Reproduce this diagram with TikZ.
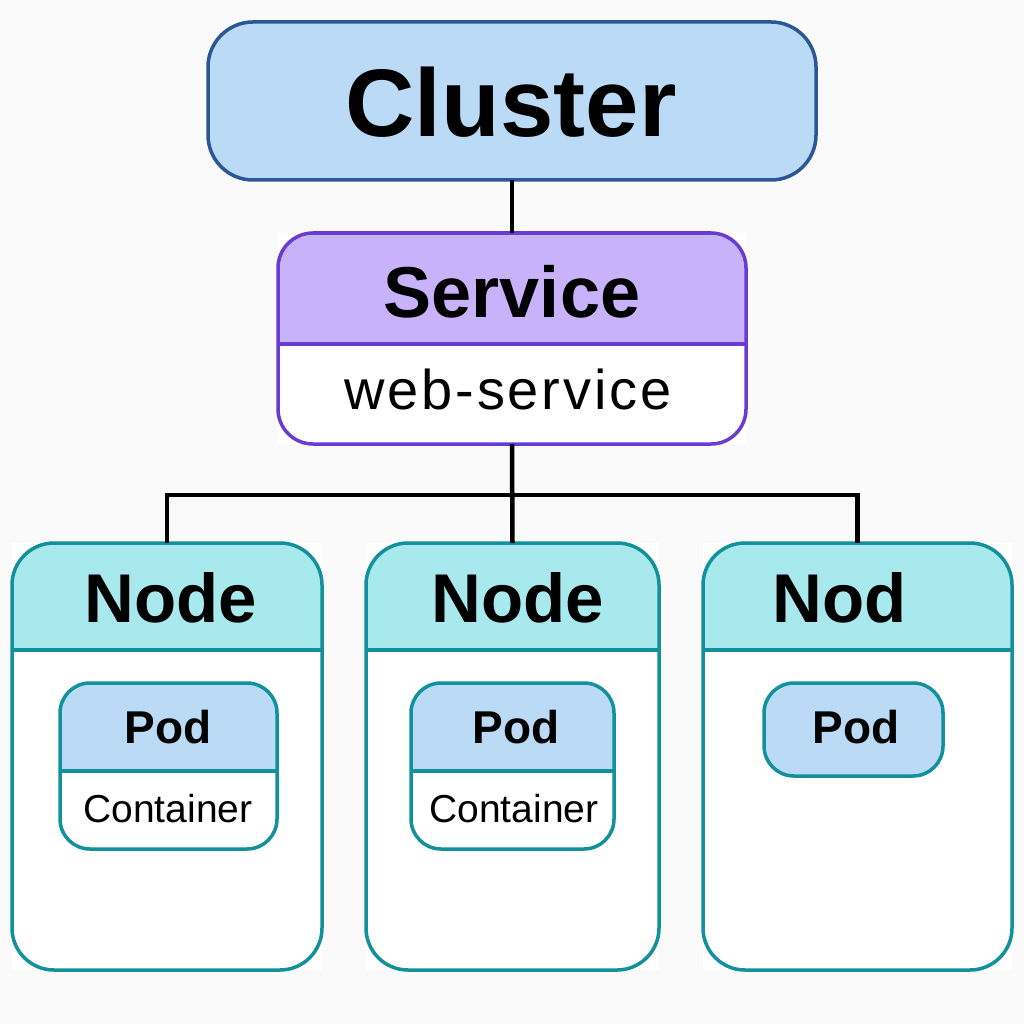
\documentclass[tikz,border=0pt]{standalone}
\usepackage{fontspec}
\setmainfont{Liberation Sans}
\newfontfamily\widesans[LetterSpace=5]{Liberation Sans}
\definecolor{bgc}{RGB}{250,250,250}
\definecolor{clfill}{RGB}{187,218,245}
\definecolor{clborder}{RGB}{43,87,151}
\definecolor{svfill}{RGB}{200,178,250}
\definecolor{svborder}{RGB}{106,59,209}
\definecolor{ndfill}{RGB}{168,233,238}
\definecolor{ndborder}{RGB}{18,144,156}
\definecolor{podfill}{RGB}{187,218,245}
\begin{document}
\begin{tikzpicture}[x=1pt,y=-1pt,
  boxbase/.style={rectangle,inner sep=0pt,outer sep=0pt,fill=white},
  conn/.style={draw=black,line width=4.5pt},
  lbl/.style={inner sep=0pt,anchor=base,text=black}]
\useasboundingbox[fill=bgc] (0,0) rectangle (1024,1024);

% Cluster
\node[boxbase,fill=clfill,draw=clborder,line width=3.5pt,rounded corners=45pt,
  minimum width=608pt,minimum height=158pt] (cluster) at (512,101) {};
\node[lbl,font=\fontsize{96}{96}\selectfont\bfseries] (clusterlbl) at (511,137) {Cluster};

% Service
\node[boxbase,minimum width=468pt,minimum height=211pt] (svc) at (512,338.5) {};
\fill[svfill] (278,344) [rounded corners=35pt] -- (278,233) -- (746,233) [sharp corners] -- (746,344) -- cycle;
\draw[svborder,line width=3.5pt] (278,344) -- (746,344);
\draw[svborder,line width=3.5pt,rounded corners=35pt] (svc.north west) rectangle (svc.south east);
\node[lbl,font=\fontsize{72}{72}\selectfont\bfseries] (svclbl) at (512,317) {Service};
\node[lbl,font=\widesans\fontsize{56}{56}\selectfont] (svcname) at (508,409) {web-service};

% Nodes
\foreach \nm/\cx/\w in {n1/167/310,n2/512.5/293,n3/857.5/309}{
  \node[boxbase,minimum width=\w pt,minimum height=427pt] (\nm) at (\cx,756.5) {};
  \fill[ndfill] (\nm.west |- 0,650) [rounded corners=42pt] -- (\nm.north west) -- (\nm.north east) [sharp corners] -- (\nm.east |- 0,650) -- cycle;
  \draw[ndborder,line width=3.5pt] (\nm.west |- 0,650) -- (\nm.east |- 0,650);
  \draw[ndborder,line width=3.5pt,rounded corners=42pt] (\nm.north west) rectangle (\nm.south east);
}
\node[lbl,font=\fontsize{69}{69}\selectfont\bfseries] (n1lbl) at (171,622) {Node};
\node[lbl,font=\fontsize{69}{69}\selectfont\bfseries] (n2lbl) at (518,622) {Node};
\node[lbl,font=\fontsize{69}{69}\selectfont\bfseries] (n3lbl) at (840,622) {Nod};

% Pods with container
\foreach \nm/\cx/\w in {p1/168.5/217,p2/512.5/203}{
  \node[boxbase,minimum width=\w pt,minimum height=166pt] (\nm) at (\cx,766) {};
  \fill[podfill] (\nm.west |- 0,771) [rounded corners=30pt] -- (\nm.north west) -- (\nm.north east) [sharp corners] -- (\nm.east |- 0,771) -- cycle;
  \draw[ndborder,line width=3.5pt] (\nm.west |- 0,771) -- (\nm.east |- 0,771);
  \draw[ndborder,line width=3.5pt,rounded corners=30pt] (\nm.north west) rectangle (\nm.south east);
}
\node[boxbase,fill=podfill,draw=ndborder,line width=3.5pt,rounded corners=30pt,
  minimum width=179pt,minimum height=93pt] (p3) at (853.5,729.5) {};

\node[lbl,font=\fontsize{46}{46}\selectfont\bfseries] (p1lbl) at (168,743) {Pod};
\node[lbl,font=\fontsize{46}{46}\selectfont\bfseries] (p2lbl) at (516,743) {Pod};
\node[lbl,font=\fontsize{46}{46}\selectfont\bfseries] (p3lbl) at (856,743) {Pod};
\node[lbl,font=\fontsize{39}{39}\selectfont] (c1lbl) at (168,822) {Container};
\node[lbl,font=\fontsize{39}{39}\selectfont] (c2lbl) at (514,822) {Container};

% Connectors
\coordinate (bus) at (512,495);
\draw[conn] (cluster.south) -- (svc.north);
\draw[conn] (svc.south) -- (n2.north);
\draw[conn] (n1.north) |- (bus) -| (n3.north);
\end{tikzpicture}
\end{document}
